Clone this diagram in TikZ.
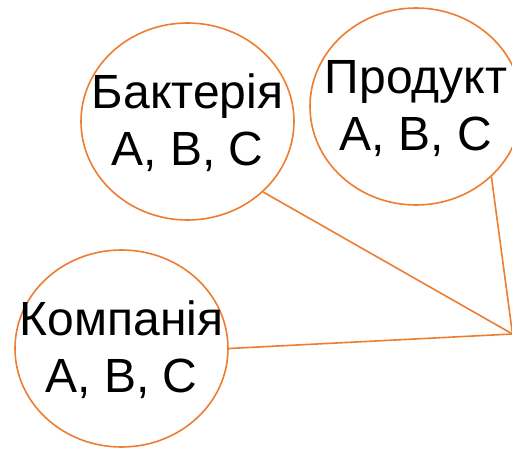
\documentclass[tikz,border=0pt]{standalone}
\usepackage{fontspec}
\setmainfont{Liberation Sans}
\usetikzlibrary{shapes.geometric}
\definecolor{lineorange}{HTML}{ED7D31}
\tikzset{
  bubble/.style={ellipse, draw=lineorange, line width=1.6pt, fill=white,
    minimum width=213pt, minimum height=197pt, inner sep=0pt},
  bubbletext/.style={align=center, inner sep=0pt, text=black,
    font=\fontsize{48}{57}\selectfont},
  link/.style={draw=lineorange, line width=1.6pt}
}
\begin{document}
\begin{tikzpicture}[x=1pt,y=1pt]
\useasboundingbox (0,0) rectangle (512,448);
\clip (0,0) rectangle (512,448);
\coordinate (hub) at (512.5,114);
\node[bubble] (b) at (187.5,326.5) {};
\node[bubble, minimum width=212pt] (p) at (416,341.5) {};
\node[bubble] (k) at (121.5,99.5) {};
\node[bubbletext] (bt) at ([yshift=-1pt]b.center) {Бактерія\\A, B, C};
\node[bubbletext] (pt) at ([yshift=-2pt]p.center) {Продукт\\A, B, C};
\node[bubbletext] (kt) at ([yshift=-1pt]k.center) {Компанія\\A, B, C};
\draw[link] (b.-43) -- (hub);
\draw[link] (p.-43) -- (hub);
\draw[link] (k.east) -- (hub);
\end{tikzpicture}
\end{document}
